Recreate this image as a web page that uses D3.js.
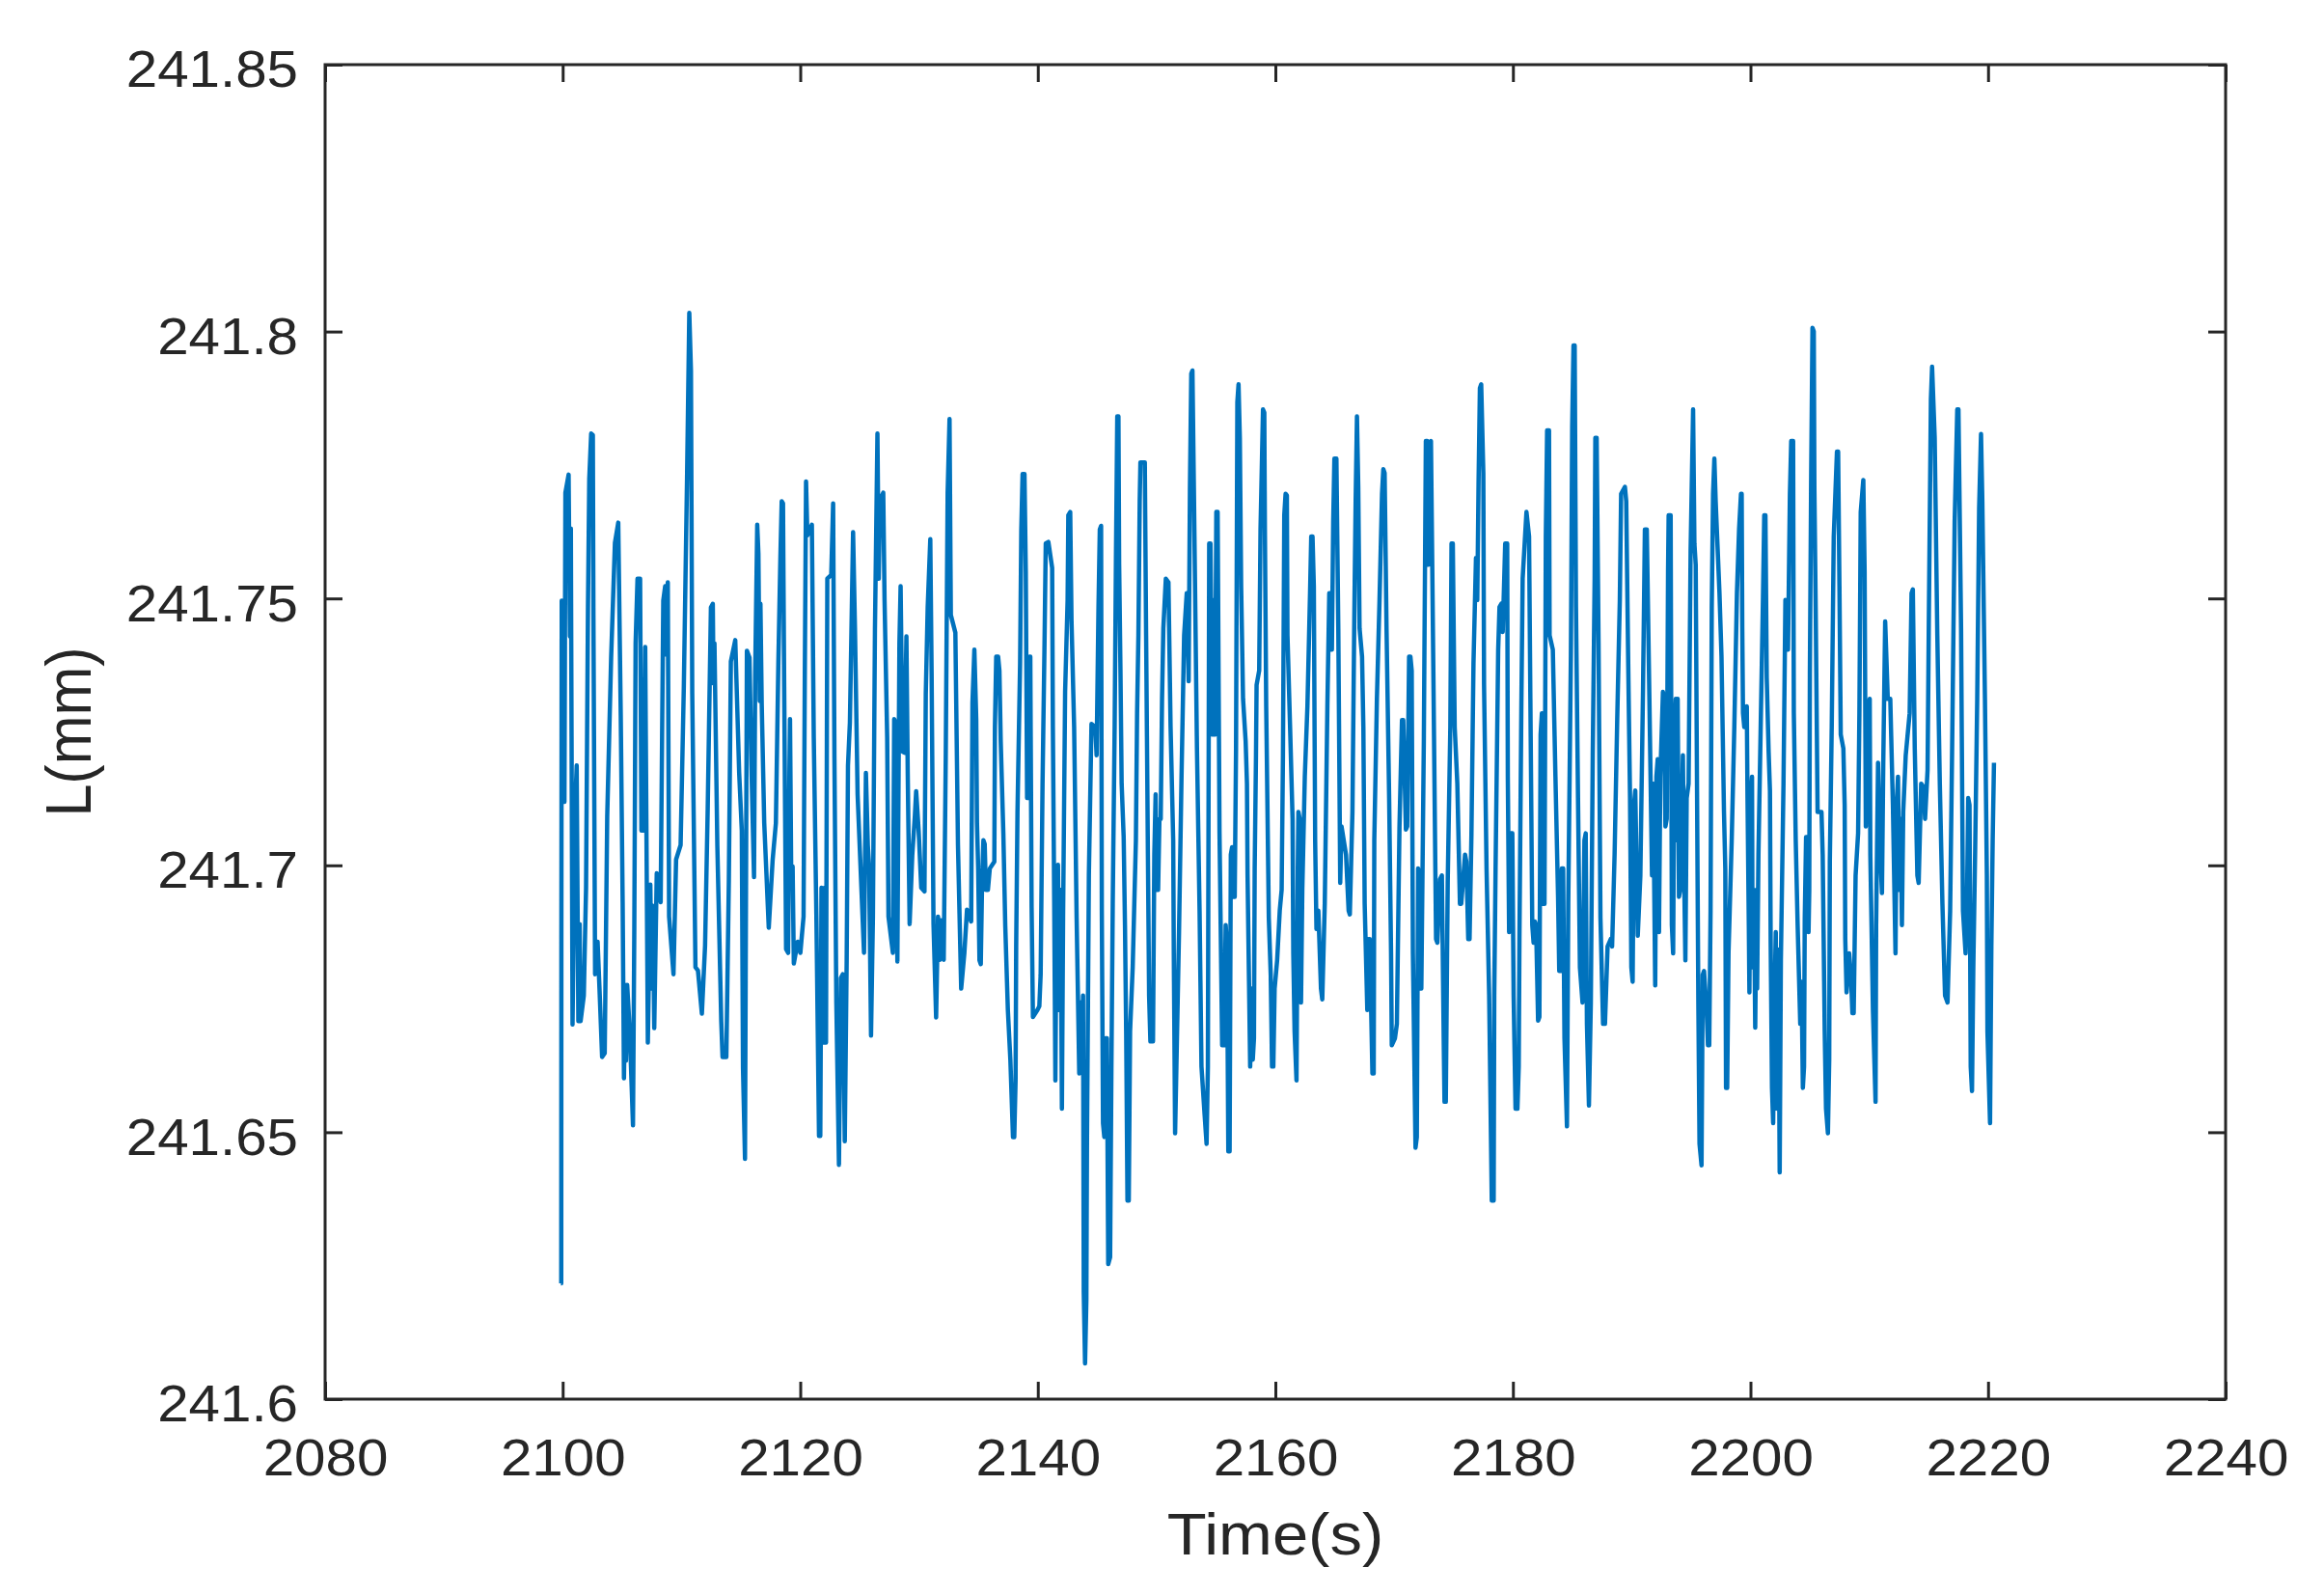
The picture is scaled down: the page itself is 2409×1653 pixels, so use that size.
<!DOCTYPE html>
<html>
<head>
<meta charset="utf-8">
<script src="https://cdn.jsdelivr.net/npm/d3@7"></script>
<style>
  body { margin: 0; background: #fff; }
  text { font-family: "Liberation Sans", Arial, Helvetica, sans-serif; fill: #262626; }
</style>
</head>
<body>
<div id="chart"></div>
<script>
// ---- data (time in s, length in mm)
var xTicks = [2080, 2100, 2120, 2140, 2160, 2180, 2200, 2220, 2240];
var yTicks = [241.6, 241.65, 241.7, 241.75, 241.8, 241.85];
var xLabel = "Time(s)";
var yLabel = "L(mm)";

var part2100 = [
  [2099.85,241.6217],[2099.88,241.6217],[2099.89,241.6870],[2099.92,241.7496],[2100.07,241.7490],
  [2100.15,241.7119],[2100.23,241.7698],[2100.50,241.7732],[2100.61,241.7429],[2100.69,241.7631],
  [2100.83,241.6702],[2101.05,241.7106],[2101.18,241.7187],[2101.32,241.6708],[2101.43,241.6890],
  [2101.51,241.6708],[2101.78,241.6756],[2101.97,241.6958],[2102.13,241.7483],[2102.24,241.7725],
  [2102.40,241.7809],[2102.54,241.7806],[2102.59,241.7469],[2102.73,241.6796],[2102.94,241.6857],
  [2103.10,241.6769],[2103.32,241.6641],[2103.54,241.6648],[2103.75,241.7092],[2104.08,241.7389],
  [2104.40,241.7604],[2104.68,241.7642],[2104.89,241.7281],[2105.05,241.6931],[2105.16,241.6601],
  [2105.27,241.6776],[2105.33,241.6634],[2105.43,241.6776],[2105.65,241.6688],[2105.92,241.6513],
  [2106.03,241.6877],[2106.14,241.7416],[2106.30,241.7537],[2106.52,241.7537],[2106.63,241.7065],
  [2106.73,241.7348],[2106.84,241.7065],[2106.95,241.7409],[2107.17,241.6668],[2107.38,241.6964],
  [2107.49,241.6769],[2107.60,241.6924],[2107.71,241.6695],[2107.92,241.6985],[2108.25,241.6931],
  [2108.47,241.7496],[2108.63,241.7523],[2108.71,241.7395],[2108.85,241.7530],[2108.96,241.6904],
  [2109.33,241.6796],[2109.55,241.7011],[2109.93,241.7038],[2110.20,241.7335],[2110.47,241.7725],
  [2110.66,241.8035],[2110.80,241.7927],[2110.91,241.7321],[2111.18,241.6809],[2111.39,241.6803],
  [2111.72,241.6722],[2111.99,241.6850],[2112.21,241.7106],[2112.48,241.7483],[2112.64,241.7490],
  [2112.70,241.7341],[2112.78,241.7416],[2113.02,241.7038],[2113.35,241.6708],[2113.46,241.6641],
  [2113.78,241.6641],[2113.99,241.6971],[2114.16,241.7382],[2114.53,241.7422],[2114.86,241.7173],
  [2115.08,241.7065],[2115.18,241.6621],[2115.35,241.6450],[2115.51,241.7402],[2115.73,241.7389],
  [2115.89,241.7187],[2116.11,241.6978],[2116.21,241.7362],[2116.38,241.7638],[2116.48,241.7584],
  [2116.59,241.7308],[2116.65,241.7490],[2116.76,241.7301],[2116.97,241.7079],[2117.35,241.6883],
  [2117.68,241.7011],[2117.95,241.7079],[2118.16,241.7382],[2118.33,241.7577],[2118.44,241.7682],
  [2118.55,241.7678],[2118.65,241.7335],[2118.81,241.6843],[2118.98,241.6836],[2119.09,241.7173],
  [2119.14,241.7274],[2119.25,241.6958],[2119.36,241.6998],[2119.46,241.6816],[2119.79,241.6857],
  [2120.01,241.6836],[2120.28,241.6904],[2120.39,241.7375],[2120.49,241.7719],[2120.60,241.7618],
  [2120.98,241.7638],[2121.14,241.7240],[2121.36,241.6904],[2121.58,241.6493],[2121.69,241.6493],
  [2121.79,241.6958],[2121.96,241.6668],[2122.07,241.6958],[2122.17,241.6668],[2122.28,241.7537],
  [2122.61,241.7544],[2122.77,241.7678],[2122.88,241.7200],[2123.04,241.6742],[2123.26,241.6439],
  [2123.42,241.6789],[2123.59,241.6796],[2123.75,241.6483],[2123.91,241.6823],[2124.02,241.7187],
  [2124.18,241.7267],[2124.45,241.7624],[2124.61,241.7442],[2124.83,241.7133],[2125.37,241.6836],
  [2125.53,241.7173],[2125.69,241.7038],[2125.80,241.6998],[2125.96,241.6681],[2126.12,241.6904],
  [2126.29,241.7442],[2126.50,241.7809],[2126.61,241.7537],[2126.72,241.7685],[2126.99,241.7698],
  [2127.10,241.7496],[2127.32,241.7240],[2127.43,241.6904],[2127.80,241.6836],[2127.91,241.7274],
  [2128.02,241.7267],[2128.18,241.6820],[2128.35,241.7416],[2128.45,241.7523],[2128.62,241.7213],
  [2128.78,241.7211],[2128.94,241.7429],[2129.05,241.7173],[2129.21,241.6890],[2129.43,241.7018],
  [2129.65,241.7092],[2129.76,241.7139],[2129.97,241.7065],[2130.19,241.6958],[2130.46,241.6951],
  [2130.57,241.7321],[2130.73,241.7483],[2130.95,241.7611],[2131.06,241.7362],[2131.22,241.6890],
  [2131.44,241.6715],[2131.60,241.6904],[2131.76,241.6823],[2131.87,241.6897],[2132.08,241.6823],
  [2132.25,241.7200],[2132.41,241.7698],[2132.57,241.7836],[2132.68,241.7469],[2133.06,241.7436],
  [2133.28,241.7038],[2133.55,241.6769],[2133.82,241.6836],[2134.04,241.6917]
];

var part2134 = [
  [2134.39,241.6895],[2134.50,241.7305],[2134.66,241.7404],[2134.82,241.7272],[2134.88,241.7080],
  [2134.98,241.6994],[2135.09,241.6822],[2135.20,241.6815],[2135.31,241.6967],[2135.42,241.7047],
  [2135.53,241.7040],[2135.63,241.6954],[2135.80,241.6954],[2135.96,241.6994],[2136.34,241.7007],
  [2136.39,241.7259],[2136.50,241.7391],[2136.66,241.7391],[2136.77,241.7365],[2136.88,241.7232],
  [2137.10,241.7060],[2137.26,241.6888],[2137.48,241.6729],[2137.69,241.6636],[2137.91,241.6491],
  [2138.02,241.6491],[2138.13,241.6597],[2138.18,241.6848],[2138.29,241.7100],[2138.51,241.7378],
  [2138.61,241.7629],[2138.72,241.7733],[2138.88,241.7733],[2138.99,241.7550],[2139.10,241.7126],
  [2139.21,241.7126],[2139.32,241.7391],[2139.37,241.7391],[2139.48,241.6921],[2139.59,241.6716],
  [2139.97,241.6729],[2140.13,241.6736],[2140.24,241.6795],[2140.40,241.7153],[2140.56,241.7404],
  [2140.67,241.7603],[2140.89,241.7606],[2141.21,241.7557],[2141.27,241.7259],[2141.38,241.6941],
  [2141.48,241.6597],[2141.59,241.6954],[2141.70,241.7001],[2141.81,241.6729],[2141.92,241.6954],
  [2142.03,241.6544],[2142.13,241.6901],[2142.30,241.7325],[2142.51,241.7497],[2142.57,241.7656],
  [2142.73,241.7662],[2142.84,241.7457],[2143.06,241.7259],[2143.27,241.6901],[2143.49,241.6610],
  [2143.60,241.6743],[2143.71,241.6623],[2143.81,241.6756],[2143.87,241.6200],[2143.98,241.6067],
  [2144.09,241.6186],[2144.14,241.6478],[2144.30,241.6981],[2144.52,241.7265],[2144.84,241.7259],
  [2144.95,241.7206],[2145.11,241.7484],[2145.22,241.7629],[2145.33,241.7636],[2145.39,241.6915],
  [2145.49,241.6517],[2145.60,241.6491],[2145.71,241.6676],[2145.82,241.6676],[2145.93,241.6253],
  [2146.09,241.6266],[2146.20,241.6623],[2146.31,241.6928],[2146.47,241.7259],[2146.58,241.7576],
  [2146.69,241.7841],[2146.79,241.7841],[2146.85,241.7563],[2146.96,241.7365],[2147.06,241.7153],
  [2147.23,241.7053],[2147.34,241.6888],[2147.44,241.6689],[2147.55,241.6372],[2147.66,241.6372],
  [2147.77,241.6689],[2147.99,241.6809],[2148.26,241.7047],[2148.36,241.7285],[2148.47,241.7431],
  [2148.58,241.7682],[2148.64,241.7755],[2149.01,241.7755],[2149.12,241.7431],[2149.27,241.7020],
  [2149.37,241.6756],[2149.48,241.6670],[2149.70,241.6670],[2149.81,241.7020],[2149.92,241.7133],
  [2150.02,241.6954],[2150.13,241.6954],[2150.24,241.7087],[2150.35,241.7087],[2150.46,241.7312],
  [2150.57,241.7444],[2150.78,241.7537],[2151.00,241.7530],[2151.18,241.7259],[2151.40,241.7047],
  [2151.45,241.6835],[2151.56,241.6498],[2151.67,241.6623],[2151.89,241.6875],[2152.10,241.7166],
  [2152.32,241.7431],[2152.54,241.7510],[2152.70,241.7345],[2152.81,241.7709],[2152.92,241.7921],
  [2153.02,241.7927],[2153.19,241.7616],[2153.40,241.7219],[2153.62,241.6915],[2153.78,241.6623],
  [2154.05,241.6531],[2154.21,241.6478],[2154.32,241.6623],[2154.43,241.7603],[2154.54,241.7603],
  [2154.70,241.7245],[2154.81,241.7497],[2154.92,241.7245],[2155.03,241.7662],[2155.14,241.7662],
  [2155.30,241.7060],[2155.52,241.6663],[2155.68,241.6663]
];

var part2156 = [
  [2155.82,241.6888],[2155.93,241.6848],[2156.04,241.6464],[2156.15,241.6464],[2156.25,241.7020],
  [2156.36,241.7034],[2156.47,241.6941],[2156.58,241.6941],[2156.69,241.7219],[2156.80,241.7868],
  [2156.90,241.7901],[2157.01,241.7801],[2157.12,241.7523],[2157.28,241.7312],[2157.50,241.7232],
  [2157.61,241.7153],[2157.66,241.6981],[2157.88,241.6623],[2157.99,241.6769],[2158.10,241.6636],
  [2158.20,241.6676],[2158.26,241.6994],[2158.37,241.7206],[2158.42,241.7338],[2158.64,241.7365],
  [2158.75,241.7629],[2158.96,241.7854],[2159.07,241.7848],[2159.12,241.7629],[2159.23,241.7298],
  [2159.45,241.6901],[2159.61,241.6795],[2159.72,241.6623],[2159.83,241.6623],[2159.94,241.6769],
  [2160.15,241.6822],[2160.37,241.6915],[2160.53,241.6954],[2160.64,241.7206],[2160.75,241.7656],
  [2160.86,241.7696],[2160.97,241.7693],[2161.02,241.7431],[2161.24,241.7259],[2161.45,241.7087],
  [2161.51,241.6835],[2161.62,241.6689],[2161.78,241.6597],[2161.89,241.6994],[2161.94,241.7100],
  [2162.05,241.7087],[2162.16,241.6743],[2162.27,241.6954],[2162.48,241.7166],[2162.70,241.7298],
  [2162.92,241.7510],[2163.02,241.7616],[2163.13,241.7616],[2163.24,241.7523],[2163.35,241.7047],
  [2163.46,241.6881],[2163.62,241.6915],[2163.84,241.6769],[2163.95,241.6749],[2164.16,241.6928],
  [2164.38,241.7298],[2164.54,241.7510],[2164.65,241.7510],[2164.76,241.7404],[2164.87,241.7643],
  [2164.97,241.7762],[2165.14,241.7762],[2165.30,241.7444],[2165.46,241.6967],[2165.57,241.7073],
  [2165.95,241.7020],[2166.17,241.6915],[2166.27,241.6908],[2166.49,241.7100],[2166.65,241.7471],
  [2166.76,241.7682],[2166.87,241.7841],[2166.98,241.7709],[2167.09,241.7444],[2167.30,241.7391],
  [2167.41,241.7259],[2167.52,241.6928],[2167.74,241.6729],[2167.85,241.6862],[2167.95,241.6862],
  [2168.17,241.6610],[2168.28,241.6610],[2168.33,241.7047],[2168.55,241.7312],[2168.77,241.7497],
  [2168.98,241.7696],[2169.09,241.7742],[2169.20,241.7735],[2169.36,241.7444],[2169.58,241.7126],
  [2169.74,241.6835],[2169.80,241.6663],[2170.07,241.6676],[2170.23,241.6703],[2170.45,241.7073],
  [2170.66,241.7272],[2170.77,241.7272],[2170.99,241.7067],[2171.10,241.7073],[2171.26,241.7391],
  [2171.37,241.7391],[2171.48,241.7365],[2171.58,241.6835],[2171.80,241.6471],[2171.91,241.6491],
  [2172.02,241.6994],[2172.13,241.6981],[2172.18,241.6769],[2172.29,241.6769],[2172.50,241.7232],
  [2172.67,241.7795],[2172.78,241.7795],[2172.88,241.7563],[2172.99,241.7788],[2173.10,241.7795],
  [2173.32,241.7325],[2173.53,241.6862],[2173.64,241.6855],[2173.86,241.6974],[2174.02,241.6981],
  [2174.18,241.6663],[2174.24,241.6557],[2174.35,241.6557],[2174.51,241.6967],[2174.73,241.7259],
  [2174.83,241.7603],[2174.94,241.7603],[2175.10,241.7259],[2175.32,241.7153],[2175.54,241.6928],
  [2175.65,241.6928],[2175.97,241.7020],[2176.08,241.7007],[2176.24,241.6862],[2176.35,241.6862],
  [2176.51,241.7060],[2176.68,241.7378],[2176.89,241.7576],[2177.00,241.7497],[2177.11,241.7722],
  [2177.22,241.7894],[2177.33,241.7901]
];

var part2177 = [
  [2177.51,241.7735],[2177.57,241.7338],[2177.78,241.6994],[2178.00,241.6756],[2178.22,241.6372],
  [2178.38,241.6372],[2178.43,241.6756],[2178.54,241.6994],[2178.76,241.7404],[2178.87,241.7484],
  [2179.03,241.7490],[2179.14,241.7437],[2179.25,241.7523],[2179.35,241.7603],[2179.52,241.7603],
  [2179.57,241.7166],[2179.68,241.6875],[2179.84,241.7060],[2179.95,241.7060],[2180.06,241.6756],
  [2180.22,241.6544],[2180.38,241.6544],[2180.49,241.6623],[2180.55,241.6862],[2180.71,241.7298],
  [2180.82,241.7537],[2181.14,241.7662],[2181.36,241.7616],[2181.47,241.7312],[2181.63,241.6888],
  [2181.74,241.6855],[2181.85,241.6895],[2181.95,241.6888],[2182.12,241.6709],[2182.23,241.6716],
  [2182.33,241.7245],[2182.44,241.7285],[2182.55,241.6928],[2182.66,241.6928],[2182.77,241.7616],
  [2182.88,241.7815],[2183.04,241.7815],[2183.09,241.7431],[2183.36,241.7404],[2183.58,241.7166],
  [2183.80,241.6941],[2183.90,241.6802],[2184.01,241.6802],[2184.12,241.6994],[2184.23,241.6994],
  [2184.34,241.6676],[2184.55,241.6511],[2184.66,241.6928],[2184.88,241.7391],[2184.99,241.7821],
  [2185.10,241.7974],[2185.20,241.7974],[2185.31,241.7484],[2185.48,241.7126],[2185.64,241.6809],
  [2185.86,241.6743],[2186.02,241.7047],[2186.13,241.7060],[2186.23,241.6703],[2186.40,241.6550],
  [2186.56,241.6743],[2186.72,241.7206],[2186.88,241.7537],[2186.94,241.7801],[2187.05,241.7801],
  [2187.21,241.7418],[2187.37,241.6901],[2187.59,241.6703],[2187.75,241.6703],[2187.97,241.6848],
  [2188.24,241.6862],[2188.35,241.6848],[2188.56,241.7020],[2188.78,241.7272],[2189.00,241.7497],
  [2189.11,241.7696],[2189.43,241.7709],[2189.54,241.7682],[2189.70,241.7391],[2189.86,241.7126],
  [2189.97,241.6809],[2190.08,241.6782],[2190.19,241.7113],[2190.30,241.7140],[2190.51,241.6868],
  [2190.73,241.6981],[2190.95,241.7325],[2191.11,241.7629],[2191.27,241.7629],[2191.49,241.7312],
  [2191.71,241.6981],[2191.81,241.7153],[2191.98,241.6775],[2192.08,241.7166],[2192.19,241.7199],
  [2192.30,241.6875],[2192.41,241.7166],[2192.63,241.7325],[2192.73,241.7312],[2192.84,241.7073],
  [2192.95,241.7087],[2193.06,241.7550],[2193.11,241.7656],[2193.28,241.7656],[2193.38,241.6888],
  [2193.49,241.6835],[2193.60,241.7259],[2193.71,241.7312],[2193.76,241.7047],[2193.87,241.7312],
  [2193.98,241.6941],[2194.09,241.6954],[2194.31,241.7206],[2194.41,241.6994],[2194.52,241.6822],
  [2194.63,241.7126],[2194.79,241.7153],[2194.96,241.7590],[2195.17,241.7854],[2195.28,241.7603],
  [2195.39,241.7563],[2195.50,241.7140],[2195.61,241.6743],[2195.71,241.6478],[2195.88,241.6438],
  [2195.98,241.6795],[2196.09,241.6802],[2196.31,241.6729],[2196.42,241.6663],[2196.53,241.6663],
  [2196.64,241.6915],[2196.74,241.7484],[2196.85,241.7696],[2196.96,241.7762],[2197.07,241.7682],
  [2197.39,241.7510],[2197.56,241.7391],[2197.77,241.7100],[2197.88,241.6994],[2197.94,241.6583],
  [2198.04,241.6583],[2198.15,241.6835],[2198.42,241.7047],[2198.64,241.7259],[2198.86,241.7510]
];

var part2199 = [
  [2199.04,241.7629],[2199.20,241.7696],[2199.26,241.7696],[2199.31,241.7444],[2199.37,241.7285],
  [2199.48,241.7259],[2199.69,241.7298],[2199.75,241.7126],[2199.86,241.6888],[2199.91,241.6762],
  [2200.02,241.7126],[2200.13,241.7166],[2200.18,241.6809],[2200.29,241.6954],[2200.40,241.6696],
  [2200.51,241.6954],[2200.56,241.6769],[2200.67,241.7020],[2200.88,241.7285],[2201.05,241.7497],
  [2201.16,241.7656],[2201.26,241.7656],[2201.37,241.7351],[2201.53,241.7212],[2201.64,241.7140],
  [2201.70,241.6855],[2201.81,241.6583],[2201.91,241.6517],[2202.02,241.6743],[2202.13,241.6875],
  [2202.24,241.6544],[2202.35,241.6842],[2202.46,241.6425],[2202.56,241.6822],[2202.78,241.7153],
  [2202.94,241.7497],[2203.05,241.7418],[2203.16,241.7404],[2203.32,241.7696],[2203.43,241.7795],
  [2203.59,241.7795],[2203.65,241.7285],[2203.81,241.7047],[2203.97,241.6888],[2204.19,241.6703],
  [2204.30,241.6782],[2204.41,241.6583],[2204.51,241.6623],[2204.57,241.6901],[2204.68,241.7053],
  [2204.78,241.7053],[2204.89,241.6875],[2204.95,241.6954],[2205.00,241.7358],[2205.11,241.7735],
  [2205.22,241.8007],[2205.33,241.8000],[2205.38,241.7709],[2205.49,241.7484],[2205.65,241.7100],
  [2205.98,241.7100],[2206.08,241.7020],[2206.25,241.6689],[2206.36,241.6544],[2206.52,241.6498],
  [2206.63,241.6636],[2206.68,241.7007],[2206.84,241.7259],[2207.01,241.7616],[2207.28,241.7775],
  [2207.38,241.7775],[2207.49,241.7523],[2207.60,241.7245],[2207.82,241.7219],[2207.93,241.7113],
  [2207.98,241.6862],[2208.09,241.6762],[2208.31,241.6835],[2208.47,241.6789],[2208.58,241.6723],
  [2208.69,241.6723],[2208.85,241.6981],[2209.06,241.7060],[2209.17,241.7285],[2209.28,241.7662],
  [2209.50,241.7722],[2209.61,241.7550],[2209.71,241.7073],[2209.82,241.7285],[2210.04,241.7312],
  [2210.09,241.7020],[2210.31,241.6729],[2210.53,241.6557],[2210.58,241.6888],[2210.74,241.7192],
  [2210.91,241.7034],[2211.07,241.6948],[2211.18,241.7192],[2211.34,241.7457],[2211.56,241.7312],
  [2211.77,241.7312],[2211.99,241.7113],[2212.21,241.6835],[2212.31,241.7113],[2212.42,241.7166],
  [2212.53,241.6954],[2212.64,241.7087],[2212.75,241.6888],[2212.86,241.7100],[2213.07,241.7206],
  [2213.40,241.7285],[2213.56,241.7510],[2213.67,241.7517],[2213.83,241.7219],[2214.05,241.6981],
  [2214.16,241.6967],[2214.37,241.7153],[2214.59,241.7146],[2214.70,241.7087],[2214.91,241.7179],
  [2215.02,241.7471],[2215.19,241.7874],[2215.29,241.7934],[2215.51,241.7801],[2215.73,241.7431],
  [2215.94,241.7153],[2216.16,241.6928],[2216.38,241.6756],[2216.59,241.6743],[2216.81,241.6915],
  [2216.97,241.7206],[2217.19,241.7643],[2217.41,241.7854],[2217.51,241.7854],[2217.73,241.7444],
  [2217.89,241.6915],[2218.11,241.6835],[2218.22,241.6915],[2218.33,241.7126],[2218.44,241.7113],
  [2218.54,241.6623],[2218.65,241.6577],[2218.76,241.6809],[2218.92,241.7034],[2219.09,241.7312],
  [2219.25,241.7669],[2219.41,241.7808],[2219.52,241.7682],[2219.74,241.7312],[2219.90,241.6981],
  [2219.95,241.6689],[2220.17,241.6517],[2220.28,241.6848],[2220.39,241.7047],[2220.50,241.7192]
];

var samples = part2100.concat(part2134, part2156, part2177, part2199);

// ---- layout
var width = 2409, height = 1653;
var plotLeft = 337, plotRight = 2307, plotTop = 67, plotBottom = 1450;
var axisColor = "#262626";
var lineColor = "#0072BD";
var tickLen = 18;
var stretch = 1.1; // glyphs in the reference are a bit wider than Arial

var svg = d3.select("#chart")
  .append("svg")
  .attr("width", width)
  .attr("height", height)
  .style("background", "#fff");

var x = d3.scaleLinear().domain([2080, 2240]).range([plotLeft, plotRight]);
var y = d3.scaleLinear().domain([241.6, 241.85]).range([plotBottom, plotTop]);

// data line
var line = d3.line()
  .x(function (d) { return x(d[0]); })
  .y(function (d) { return y(d[1]); });

svg.append("path")
  .datum(samples)
  .attr("fill", "none")
  .attr("stroke", lineColor)
  .attr("stroke-width", 4.5)
  .attr("stroke-linejoin", "round")
  .attr("d", line);

// axes, ticks pointing inward on all four sides
var gBottom = svg.append("g")
  .attr("transform", "translate(0," + plotBottom + ")")
  .call(d3.axisBottom(x).tickValues(xTicks).tickSizeInner(-tickLen).tickSizeOuter(0)
    .tickFormat(d3.format("d")));

var gTop = svg.append("g")
  .attr("transform", "translate(0," + plotTop + ")")
  .call(d3.axisTop(x).tickValues(xTicks).tickSizeInner(-tickLen).tickSizeOuter(0).tickFormat(""));

var gLeft = svg.append("g")
  .attr("transform", "translate(" + plotLeft + ",0)")
  .call(d3.axisLeft(y).tickValues(yTicks).tickSizeInner(-tickLen).tickSizeOuter(0)
    .tickFormat(d3.format(".2~f")));

var gRight = svg.append("g")
  .attr("transform", "translate(" + plotRight + ",0)")
  .call(d3.axisRight(y).tickValues(yTicks).tickSizeInner(-tickLen).tickSizeOuter(0).tickFormat(""));

[gBottom, gTop, gLeft, gRight].forEach(function (g) {
  g.select(".domain").remove();
  g.selectAll(".tick line").attr("stroke", axisColor).attr("stroke-width", 3);
});

gBottom.selectAll(".tick text")
  .attr("y", 79)
  .attr("dy", null)
  .attr("font-size", 53)
  .attr("fill", axisColor)
  .attr("transform", "scale(" + stretch + ",1)");

gLeft.selectAll(".tick text")
  .attr("x", -28 / stretch)
  .attr("dy", "0.43em")
  .attr("font-size", 53)
  .attr("fill", axisColor)
  .attr("transform", "scale(" + stretch + ",1)");

// frame
svg.append("rect")
  .attr("x", plotLeft)
  .attr("y", plotTop)
  .attr("width", plotRight - plotLeft)
  .attr("height", plotBottom - plotTop)
  .attr("fill", "none")
  .attr("stroke", axisColor)
  .attr("stroke-width", 3);

// axis titles
svg.append("text")
  .attr("transform", "translate(" + (plotLeft + plotRight) / 2 + ",1611) scale(1.08,1)")
  .attr("text-anchor", "middle")
  .attr("font-size", 62)
  .text(xLabel);

svg.append("text")
  .attr("transform", "translate(94," + (plotTop + plotBottom) / 2 + ") scale(" + stretch + ",1) rotate(-90)")
  .attr("text-anchor", "middle")
  .attr("font-size", 61)
  .text(yLabel);
</script>
</body>
</html>
